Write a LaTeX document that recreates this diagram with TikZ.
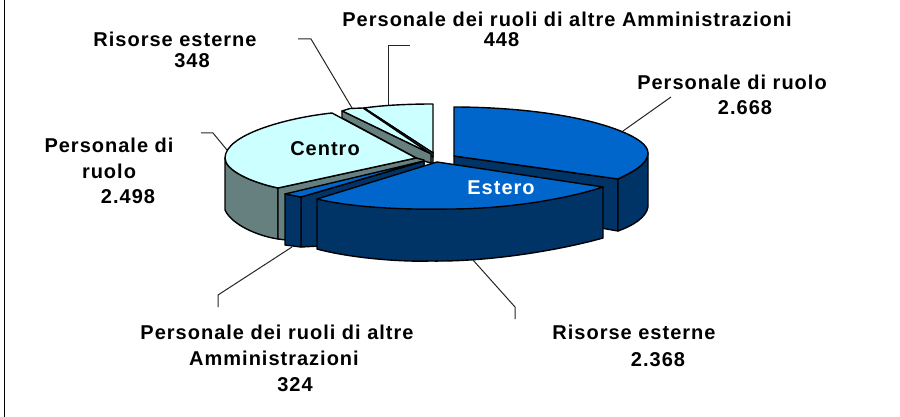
\documentclass[tikz,border=0pt]{standalone}
\usepackage{fontspec}
\setmainfont[LetterSpace=5]{Liberation Sans}
\definecolor{blueTop}{HTML}{0066CC}
\definecolor{blueSide}{HTML}{003366}
\definecolor{cyanTop}{HTML}{CCFFFF}
\definecolor{cyanSide}{HTML}{668080}
\tikzset{
  slice/.style={draw=black,line width=1.4pt,line join=round},
  leader/.style={draw=black!85,line width=1pt},
  lbl/.style={font=\fontsize{20}{20}\selectfont\bfseries,align=center,inner sep=0pt,text=black},
}
\begin{document}
\begin{tikzpicture}[x=1pt,y=-1pt]
\useasboundingbox (0,0) rectangle (900,417);
\fill[white] (0,0) rectangle (900,417);
\coordinate (fL) at (4.5,0);
\coordinate (fB) at (4.5,417);
\draw[black,line width=1.5pt] (fL) -- (fB);

% leaders
\coordinate (a1) at (623,131); \coordinate (a2) at (671,97);
\coordinate (b1) at (473,260); \coordinate (b2) at (515,307); \coordinate (b3) at (515,319);
\coordinate (c1) at (292,247); \coordinate (c2) at (218,295); \coordinate (c3) at (218,307);
\coordinate (d1) at (227,150); \coordinate (d2) at (213,133); \coordinate (d3) at (201,133);
\coordinate (e1) at (352,108); \coordinate (e2) at (311,39); \coordinate (e3) at (298,39);
\coordinate (f1) at (388,105); \coordinate (f2) at (388,46); \coordinate (f3) at (410,46);
\draw[leader] (a1) -- (a2);
\draw[leader] (b1) -- (b2) -- (b3);
\draw[leader] (c1) -- (c2) -- (c3);
\draw[leader] (d1) -- (d2) -- (d3);
\draw[leader] (e1) -- (e2) -- (e3);
\draw[leader] (f1) -- (f2) -- (f3);

% Personale di ruolo (Estero)
\draw[slice,fill=blueSide] (454,156) -- (618,179) -- (618,231) -- (440,200) -- (454,166) -- cycle;
\draw[slice,fill=blueSide] (618,179) .. controls (630,173) and (648,165) .. (648,153) -- (648,207)
   .. controls (646,218) and (632,226) .. (618,231) -- cycle;
\draw[slice,fill=blueTop] (454,107) .. controls (500,107) and (575,112) .. (623,132)
   .. controls (637,138) and (648,145) .. (648,153) .. controls (648,165) and (630,173) .. (618,179)
   -- (454,156) -- cycle;

% small slices Centro: 448
\draw[slice,fill=cyanSide] (430,150) -- (433,152) -- (433,163) -- (430,163) -- cycle;
\draw[slice,fill=cyanTop] (364,108) .. controls (385,105) and (410,104) .. (433,104) -- (433,153) -- cycle;
\draw[slice,fill=cyanSide] (364,108) -- (433,153) -- (433,157) -- (366,112) -- cycle;
% 348
\draw[slice,fill=cyanTop] (342,111) -- (350,108.5) -- (363,108) -- (431,154) -- cycle;
\draw[slice,fill=cyanSide] (342,111) -- (431,154) -- (431,163) -- (420,160) -- (342,118) -- cycle;

% Personale di ruolo (Centro)
\draw[slice,fill=cyanSide] (225,158) -- (225,210) .. controls (232,225) and (258,236) .. (278,239)
   -- (278,188) .. controls (250,182) and (225,170) .. (225,158) -- cycle;
\draw[slice,fill=cyanSide] (278,188) -- (416,158) -- (424,160) -- (424,165) -- (300,200) -- (286,240) -- (278,239) -- cycle;
\draw[slice,fill=cyanTop] (278,188) .. controls (250,182) and (225,170) .. (225,158)
   .. controls (225,135) and (285,118) .. (332,113) -- (416,158) -- cycle;

% 324 (Estero)
\draw[slice,fill=blueSide] (301,197) -- (424,161) -- (424,168) -- (320,205) -- (320,246) -- (301,247) -- cycle;
\draw[slice,fill=blueSide] (285,194) -- (301,197) -- (301,247) -- (285,245) -- cycle;
\draw[slice,fill=blueTop] (285,194) -- (301,197) -- (424,161) -- cycle;

% 2.368 (Estero)
\draw[slice,fill=blueSide] (317,199) -- (317,249) .. controls (350,258) and (400,262) .. (430,261)
   .. controls (490,262) and (560,250) .. (603,238) -- (603,187) -- cycle;
\draw[slice,fill=blueTop] (317,199) -- (437,162) -- (603,187) .. controls (570,198) and (510,209) .. (450,209)
   .. controls (400,210) and (350,207) .. (317,199) -- cycle;

% texts
\node[font=\fontsize{20}{20}\selectfont\bfseries,text=black,inner sep=0pt] (centro) at (325,149) {Centro};
\node[font=\fontsize{20}{20}\selectfont\bfseries,text=white,inner sep=0pt] (estero) at (501,188) {Estero};
\node[lbl] (l1) at (567,29) {Personale dei ruoli di altre Amministrazioni\\[0pt]\hspace*{-131pt}448};
\node[lbl] (l2) at (175,50) {Risorse esterne\\[1pt]\hspace*{34pt}348};
\node[lbl] (l3) at (732,95) {Personale di ruolo\\[5pt]\hspace*{26pt}2.668};
\node[lbl] (l4) at (109,171) {Personale di\\[6pt]ruolo\\[5pt]\hspace*{38pt}2.498};
\node[lbl] (l5) at (277,358) {Personale dei ruoli di altre\\[6pt]\hspace*{-6pt}Amministrazioni\\[6pt]\hspace*{36pt}324};
\node[lbl] (l6) at (634,346) {Risorse esterne\\[7pt]\hspace*{48pt}2.368};
\end{tikzpicture}
\end{document}
